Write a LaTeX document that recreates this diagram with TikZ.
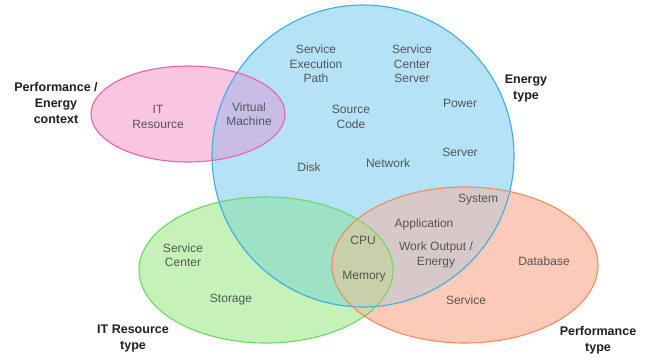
\documentclass[tikz,border=0pt]{standalone}
\usepackage{fontspec}
\setmainfont{Liberation Sans}
\definecolor{blueF}{HTML}{B5E2F6}
\definecolor{blueL}{HTML}{3AAEE6}
\definecolor{pinkF}{HTML}{F9C6E2}
\definecolor{pinkL}{HTML}{EC5FAB}
\definecolor{greenF}{HTML}{C4F2B9}
\definecolor{greenL}{HTML}{6CD864}
\definecolor{orangeF}{HTML}{FCCBB7}
\definecolor{orangeL}{HTML}{F28A62}
\definecolor{bpF}{HTML}{C8BDE6}
\definecolor{bgF}{HTML}{9CE2C5}
\definecolor{boF}{HTML}{D7C9C8}
\definecolor{goF}{HTML}{DAD6AB}
\definecolor{bgoF}{HTML}{C9CFA9}
\definecolor{itemtext}{HTML}{555555}
\definecolor{titletext}{HTML}{1E1E1E}
% set outlines
\def\setBlue{(363,156) circle [radius=151pt]}
\def\setPink{(188,114) ellipse [x radius=97pt, y radius=48pt]}
\def\setGreen{(266,270) ellipse [x radius=127pt, y radius=73pt]}
\def\setOrange{(465,265) ellipse [x radius=133pt, y radius=78pt]}
\tikzset{
  item/.style={align=center, text=itemtext, font=\fontsize{12}{14.5}\selectfont, inner sep=0pt},
  title/.style={align=center, text=titletext, font=\bfseries\fontsize{12.5}{16}\selectfont, inner sep=0pt},
  rim/.style={line width=1.1pt}
}
\begin{document}
\begin{tikzpicture}[x=1pt, y=-1pt]
\useasboundingbox (0,0) rectangle (652,360);
% base fills
\fill[blueF] \setBlue;
\fill[pinkF] \setPink;
\fill[greenF] \setGreen;
\fill[orangeF] \setOrange;
% overlaps
\begin{scope}\clip \setBlue; \fill[bpF] \setPink; \end{scope}
\begin{scope}\clip \setBlue; \fill[bgF] \setGreen; \end{scope}
\begin{scope}\clip \setBlue; \fill[boF] \setOrange; \end{scope}
\begin{scope}\clip \setGreen; \fill[goF] \setOrange; \end{scope}
\begin{scope}\clip \setBlue; \clip \setGreen; \fill[bgoF] \setOrange; \end{scope}
% outlines
\draw[rim, blueL] \setBlue;
\draw[rim, pinkL] \setPink;
\draw[rim, greenL] \setGreen;
\draw[rim, orangeL] \setOrange;
% set titles
\node[title] (tPerfEnergy) at (56,103) {Performance /\\Energy\\context};
\node[title] (tEnergy) at (526,88) {Energy\\type};
\node[title] (tITRes) at (133,338) {IT Resource\\type};
\node[title] (tPerf) at (598,340) {Performance\\type};
% members
\node[item] (itres) at (158,117) {IT\\Resource};
\node[item] (vm) at (249,114) {Virtual\\Machine};
\node[item] (sep) at (316,64) {Service\\Execution\\Path};
\node[item] (scs) at (412,64) {Service\\Center\\Server};
\node[item] (power) at (460,103) {Power};
\node[item] (src) at (351,117) {Source\\Code};
\node[item] (server) at (460,152) {Server};
\node[item] (net) at (388,163) {Network};
\node[item] (disk) at (309,167) {Disk};
\node[item] (sys) at (478,200) {System};
\node[item] (app) at (424,224) {Application};
\node[item] (wo) at (436,255) {Work Output /\\Energy};
\node[item] (db) at (544,261) {Database};
\node[item] (svc) at (466,300) {Service};
\node[item] (cpu) at (363,240) {CPU};
\node[item] (mem) at (364,277) {Memory};
\node[item] (sc) at (183,255) {Service\\Center};
\node[item] (stor) at (231,300) {Storage};
\end{tikzpicture}
\end{document}
